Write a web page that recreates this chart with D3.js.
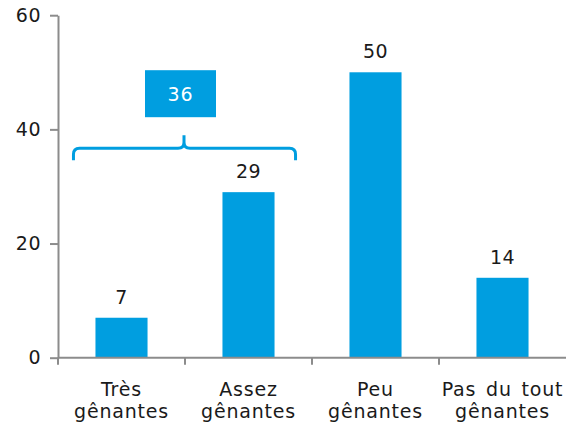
<!DOCTYPE html>
<html><head><meta charset="utf-8">
<script src="https://cdn.jsdelivr.net/npm/d3@7"></script>
<style>body{margin:0;background:#fff}text{font-family:"DejaVu Sans",Verdana,sans-serif;}</style>
</head><body><svg id="c" width="567" height="428"></svg>
<script>
const categories = [["Très","gênantes"],["Assez","gênantes"],["Peu","gênantes"],["Pas du tout","gênantes"]];
const values = [7, 29, 50, 14];
const yTicks = [0, 20, 40, 60];
const groupIdx = [0, 1];
const groupTotal = values[0] + values[1];

const blue = "#009EE0", axisCol = "#8c8c8c", txt = "#1a1a1a";
const svg = d3.select("#c");
const keys = categories.map(d => d.join(" "));
const x = d3.scaleBand().domain(keys).range([58, 566]).paddingInner(0.59).paddingOuter(0.295);
const y = d3.scaleLinear().domain([0, 60]).range([357.7, 15.2]);

// y axis
const ya = svg.append("g").attr("transform", "translate(58,0)")
  .call(d3.axisLeft(y).tickValues(yTicks).tickSize(8).tickPadding(9).tickSizeOuter(0));
ya.select(".domain").attr("stroke", axisCol).attr("stroke-width", 2);
ya.selectAll(".tick line").attr("stroke", axisCol).attr("stroke-width", 2);
ya.selectAll(".tick text").attr("font-size", 19).attr("fill", txt).attr("font-family", "DejaVu Sans").attr("letter-spacing", 0.5);

// bars
svg.selectAll("rect.bar").data(values).join("rect").attr("class","bar")
  .attr("x", (d,i) => x(keys[i])).attr("width", x.bandwidth())
  .attr("y", d => y(d)).attr("height", d => y(0) - y(d)).attr("fill", blue);

// x axis
const [x0, x1] = x.range();
svg.append("line").attr("x1", x0).attr("x2", x1).attr("y1", y(0)).attr("y2", y(0))
  .attr("stroke", axisCol).attr("stroke-width", 2);
const step = x.step();
d3.range(keys.length).forEach(i => {
  const bx = x0 + i*step;
  svg.append("line").attr("x1", bx).attr("x2", bx).attr("y1", y(0)).attr("y2", y(0)+7)
    .attr("stroke", axisCol).attr("stroke-width", 2);
});

// category labels
categories.forEach((c,i) => {
  const cx = x(keys[i]) + x.bandwidth()/2;
  const t = svg.append("text").attr("text-anchor","middle").attr("font-size",19)
    .attr("fill", txt).attr("letter-spacing", 0.8).attr("word-spacing", 3);
  c.forEach((line,j) => t.append("tspan").attr("x", cx).attr("y", 396 + j*22).text(line));
});

// value labels
svg.selectAll("text.val").data(values).join("text").attr("class","val")
  .attr("x", (d,i) => x(keys[i]) + x.bandwidth()/2).attr("y", d => y(d) - 14)
  .attr("text-anchor","middle").attr("font-size",19).attr("fill",txt).attr("letter-spacing",0.5)
  .text(d => d);

// bracket
const L = x(keys[groupIdx[0]]) - 22;
const R = x(keys[groupIdx[1]]) + x.bandwidth() + 21;
const by = y(groupTotal) - 4;
const pk = 184;
const r = 6;
const p = d3.path();
p.moveTo(L, by + 12);
p.lineTo(L, by + r);
p.quadraticCurveTo(L, by, L + r, by);
p.lineTo(pk - r, by);
p.quadraticCurveTo(pk, by, pk, by - r);
p.lineTo(pk, by - 13);
p.moveTo(pk, by - r);
p.quadraticCurveTo(pk, by, pk + r, by);
p.lineTo(R - r, by);
p.quadraticCurveTo(R, by, R, by + r);
p.lineTo(R, by + 12);
svg.append("path").attr("d", p.toString()).attr("fill","none").attr("stroke", blue).attr("stroke-width", 3);

// total box
const bw = 71, bh = 47, bcx = 180.5, bTop = by - 78;
svg.append("rect").attr("x", bcx - bw/2).attr("y", bTop).attr("width", bw).attr("height", bh).attr("fill", blue);
svg.append("text").attr("x", bcx).attr("y", bTop + bh/2 + 7).attr("text-anchor","middle")
  .attr("font-size", 19).attr("fill","#fff").attr("letter-spacing",1).text(groupTotal);
</script></body></html>
